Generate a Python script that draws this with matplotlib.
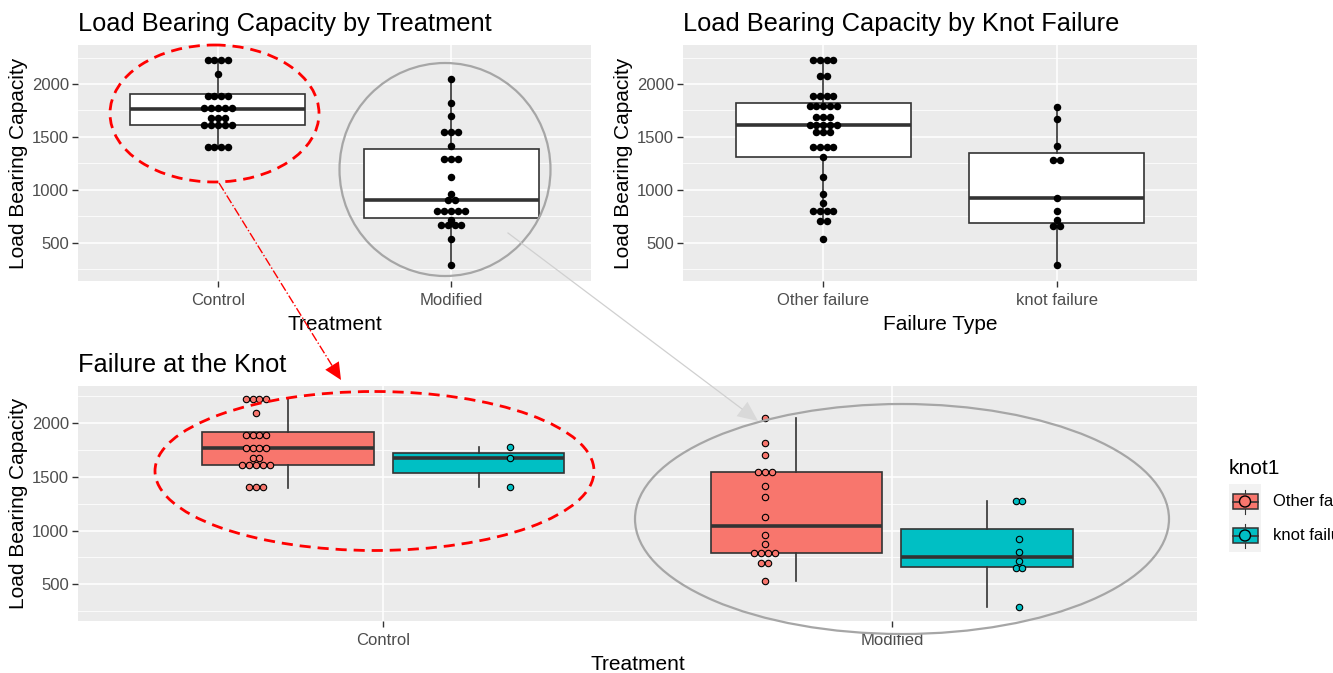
import matplotlib.pyplot as plt
import numpy as np
from matplotlib.patches import Ellipse, Rectangle, Circle, Polygon

plt.rcParams['font.family'] = ['Liberation Sans', 'DejaVu Sans']

# ---- data ----
treatments = ['Control', 'Modified']
failure_types = ['Other failure', 'knot failure']
fill_colors = ['#F8766D', '#00BFC4']

ctrl_other = [2225, 2225, 2225, 2225, 2100, 1860, 1890, 1910, 1920, 1762, 1768, 1772,
              1778, 1672, 1680, 1606, 1608, 1609, 1610, 1612, 1400, 1400, 1405]
ctrl_knot = [1780, 1672, 1410]
mod_other = [2047, 1819, 1701, 1540, 1545, 1550, 1416, 1310, 1124, 959, 875,
             794, 794, 794, 794, 701, 701, 533]
mod_knot = [1279, 1279, 925, 798, 714, 665, 640, 285]

W, H = 1333, 673
fig = plt.figure(figsize=(W / 100, H / 100), dpi=100)


def px_axes(x0, y0, x1, y1):
    return fig.add_axes([x0 / W, 1 - y1 / H, (x1 - x0) / W, (y1 - y0) / H])


def dot_bins(vals, binwidth):
    # ggplot2 "dotdensity" binning
    bins = []
    end = -np.inf
    for v in np.sort(vals):
        if v >= end:
            bins.append([v])
            end = v + binwidth
        else:
            bins[-1].append(v)
    return [((min(b) + max(b)) / 2, len(b)) for b in bins]


def dotplot(ax, x, vals, binwidth, **kw):
    # stack spacing = binwidth on the y scale, converted to x units
    bb = ax.get_position()
    y0, y1 = ax.get_ylim()
    x0, x1 = ax.get_xlim()
    px_per_y = bb.height * H / (y1 - y0)
    px_per_x = bb.width * W / (x1 - x0)
    spacing = binwidth * px_per_y / px_per_x
    xs, ys = [], []
    for center, n in dot_bins(vals, binwidth):
        for i in range(n):
            xs.append(x + (i - (n - 1) / 2) * spacing)
            ys.append(center)
    ax.scatter(xs, ys, zorder=4, **kw)


def box(ax, pos, vals, width, fc):
    ax.boxplot([vals], positions=[pos], widths=width, patch_artist=True,
               showcaps=False, showfliers=False, whis=1.5, manage_ticks=False,
               boxprops=dict(facecolor=fc, edgecolor='#333333', lw=1.2),
               medianprops=dict(color='#333333', lw=2.6),
               whiskerprops=dict(color='#333333', lw=1.2), zorder=2)


def style_ax(ax, ylim, labels, xlabel, title):
    ax.set_facecolor('#EBEBEB')
    ax.set_xlim(0.4, 2.6)
    ax.set_ylim(*ylim)
    ax.set_xticks([1, 2], labels)
    ax.set_yticks([500, 1000, 1500, 2000])
    ax.set_yticks([250, 750, 1250, 1750, 2250], minor=True)
    ax.grid(True, which='major', color='white', lw=1.1)
    ax.grid(True, which='minor', axis='y', color='white', lw=0.55)
    ax.set_axisbelow(True)
    for s in ax.spines.values():
        s.set_visible(False)
    ax.tick_params(which='major', length=4, width=1, color='#333333',
                   labelcolor='#4D4D4D', labelsize=12, pad=2.5)
    ax.tick_params(axis='x', which='major', pad=4.5)
    ax.tick_params(which='minor', length=0)
    ax.set_xlabel(xlabel, fontsize=15, labelpad=5)
    ax.set_ylabel('Load Bearing Capacity', fontsize=15, labelpad=3)
    ax.set_title(title, loc='left', fontsize=18.3, pad=10)


all_vals = ctrl_other + ctrl_knot + mod_other + mod_knot
binwidth = (max(all_vals) - min(all_vals)) / 30
dot_px = binwidth * 236 / (2370 - 136) * 1.1   # dot diameter in pixels

# ---- top left: by treatment ----
ax1 = px_axes(78, 45, 591, 281)
style_ax(ax1, (136, 2370), treatments, 'Treatment', 'Load Bearing Capacity by Treatment')
groups1 = [ctrl_other + ctrl_knot, mod_other + mod_knot]
for i, g in enumerate(groups1):
    box(ax1, i + 1, g, 0.75, 'white')
    dotplot(ax1, i + 1, g, binwidth, s=(dot_px * 0.72) ** 2, color='black', lw=0)

# ---- top right: by knot failure ----
ax2 = px_axes(683, 45, 1197, 281)
style_ax(ax2, (136, 2370), failure_types, 'Failure Type', 'Load Bearing Capacity by Knot Failure')
groups2 = [ctrl_other + mod_other, ctrl_knot + mod_knot]
for i, g in enumerate(groups2):
    box(ax2, i + 1, g, 0.75, 'white')
    dotplot(ax2, i + 1, g, binwidth, s=(dot_px * 0.72) ** 2, color='black', lw=0)

# ---- bottom: treatment x knot failure ----
ax3 = px_axes(78, 386, 1197, 621)
style_ax(ax3, (158, 2347), treatments, 'Treatment', 'Failure at the Knot')
groups3 = [[ctrl_other, ctrl_knot], [mod_other, mod_knot]]
for i, pair in enumerate(groups3):
    for j, g in enumerate(pair):
        off = -1 if j == 0 else 1
        box(ax3, i + 1 + off * 0.1875, g, 0.3375, fill_colors[j])
        dotplot(ax3, i + 1 + off * 0.25, g, binwidth, s=(dot_px * 0.72 - 0.8) ** 2,
                facecolor=fill_colors[j], edgecolor='black', lw=0.8)

# ---- legend ----
fig.text(1229 / W, 1 - 469 / H, 'knot1', fontsize=15, va='center', ha='left')
lg = px_axes(1229, 484, 1261, 552)
lg.set_xlim(1229, 1261)
lg.set_ylim(552, 484)
lg.axis('off')
lg.add_patch(Rectangle((1229, 484), 32, 68, color='#F2F2F2', zorder=0))
for k, (lab, fc) in enumerate(zip(failure_types, fill_colors)):
    cy = 501.5 + 34 * k
    lg.plot([1245, 1245], [cy - 12, cy + 12], color='#333333', lw=0.8, zorder=1)
    lg.add_patch(Rectangle((1233, cy - 7.5), 24.5, 15, facecolor=fc, edgecolor='#333333', lw=1.1, zorder=2))
    lg.plot([1233, 1257.5], [cy, cy], color='#333333', lw=1.2, zorder=3)
    lg.add_patch(Circle((1245, cy), 5.5, facecolor=fc, edgecolor='black', lw=1, zorder=4))
    fig.text(1273 / W, 1 - cy / H, lab, fontsize=12, va='center', ha='left')

# ---- callout overlay (pixel coordinates) ----
ov = fig.add_axes([0, 0, 1, 1], zorder=10)
ov.set_xlim(0, W)
ov.set_ylim(H, 0)
ov.axis('off')
ov.patch.set_alpha(0)

ov.add_patch(Ellipse((214.5, 113.5), 209, 137, fill=False, ec='red', lw=2, ls=(0, (4, 2.5))))
ov.add_patch(Ellipse((445, 169.5), 211, 213, fill=False, ec='#A6A6A6', lw=1.6))
ov.add_patch(Ellipse((374.5, 471), 439, 159, fill=False, ec='red', lw=2, ls=(0, (4, 2.5))))
ov.add_patch(Ellipse((902, 519), 534, 230, fill=False, ec='#A6A6A6', lw=1.6))


def arrow(start, tip, head_len, half_w, line_kw, head_color):
    s = np.array(start, float)
    t = np.array(tip, float)
    u = (t - s) / np.linalg.norm(t - s)
    n = np.array([-u[1], u[0]])
    b = t - head_len * u
    ov.plot([s[0], b[0]], [s[1], b[1]], **line_kw)
    ov.add_patch(Polygon([t, b + half_w * n, b - half_w * n], closed=True,
                         facecolor=head_color, edgecolor='none'))


arrow((219, 183), (341, 380), 17, 8, dict(color='red', lw=1, ls='-.'), 'red')
arrow((508, 233), (758, 421), 20, 9, dict(color='#D0D0D0', lw=0.9), '#D9D9D9')

fig.savefig('out.png', dpi=100)
